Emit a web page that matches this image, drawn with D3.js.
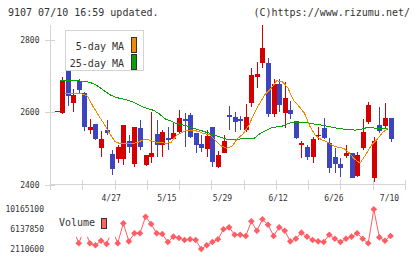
<!DOCTYPE html>
<html>
<head>
<meta charset="utf-8">
<script src="https://cdn.jsdelivr.net/npm/d3@7"></script>
<style>
body { margin: 0; background: #fff; }
svg { display: block; }
text { font-family: "DejaVu Sans Mono", monospace; fill: #333; }
</style>
</head>
<body>
<svg id="chart" width="420" height="259"></svg>
<script>
// trading days shown on the chart
const dates = [
  "4/13","4/14","4/15","4/16","4/17","4/20","4/21","4/22","4/23","4/24",
  "4/27","4/28","4/30","5/1","5/7","5/8","5/11","5/12","5/13","5/14",
  "5/15","5/18","5/19","5/20","5/21","5/22","5/25","5/26","5/27","5/28",
  "5/29","6/1","6/2","6/3","6/4","6/5","6/8","6/9","6/10","6/11",
  "6/12","6/15","6/16","6/17","6/18","6/19","6/22","6/23","6/24","6/25",
  "6/26","6/29","6/30","7/1","7/2","7/3","7/6","7/7","7/8","7/9",
  "7/10"
];

const open = [
  2602,2598,2716,2624,2686,2653,2551,2566,2500,2550,
  2484,2471,2471,2521,2457,2555,2454,2476,2539,2509,
  2527,2526,2545,2580,2591,2543,2512,2499,2558,2449,
  2488,2591,2587,2582,2550,2626,2697,2736,2736,2594,
  2677,2598,2606,2575,2510,2503,2477,2534,2555,2515,
  2477,2457,2479,2488,2424,2502,2573,2419,2564,2561,
  2583
];
const high = [
  2604,2696,2719,2663,2690,2656,2581,2568,2548,2578,
  2495,2509,2564,2537,2559,2578,2481,2601,2578,2550,
  2559,2573,2605,2596,2597,2543,2537,2550,2559,2493,
  2537,2617,2600,2589,2622,2721,2739,2840,2748,2690,
  2690,2684,2630,2575,2521,2509,2530,2559,2583,2527,
  2500,2472,2509,2488,2490,2580,2628,2532,2613,2626,
  2583
];
const low = [
  2601,2594,2617,2601,2650,2548,2539,2522,2477,2537,
  2427,2460,2453,2486,2449,2495,2452,2458,2477,2477,
  2495,2523,2541,2504,2528,2486,2490,2477,2449,2446,
  2486,2550,2546,2550,2546,2613,2665,2721,2585,2587,
  2601,2555,2580,2526,2472,2468,2460,2523,2526,2433,
  2432,2422,2472,2419,2422,2495,2567,2406,2541,2555,
  2518
];
const close = [
  2603,2688,2644,2648,2660,2558,2559,2525,2526,2542,
  2444,2504,2564,2503,2558,2503,2481,2486,2509,2546,
  2523,2543,2583,2574,2530,2510,2502,2534,2462,2481,
  2521,2585,2573,2576,2585,2702,2705,2776,2594,2677,
  2619,2639,2594,2529,2514,2477,2526,2537,2527,2446,
  2457,2445,2488,2419,2481,2546,2619,2521,2548,2583,
  2526
];

const ma5 = [
  null,2650,2650,2650,2650,2644,2616,2591,2567,2541,
  2518,2512,2514,2513,2516,2523,2523,2518,2516,2514,
  2515,2535,2544,2550,2550,2546,2540,2537,2522,2507,
  2500,2506,2527,2540,2563,2597,2625,2650,2665,2686,
  2684,2667,2633,2616,2597,2560,2535,2524,2518,2508,
  2503,2500,2488,2470,2459,2482,2508,2523,2543,2555,
  null
];
const ma25 = [
  2687,2687,2687,2687,2685,2683,2679,2670,2659,2648,
  2641,2637,2634,2629,2621,2614,2609,2604,2594,2581,
  2575,2568,2565,2561,2556,2551,2546,2541,2535,2530,
  2525,2525,2525,2526,2527,2528,2540,2548,2556,2559,
  2561,2568,2572,2572,2572,2569,2566,2564,2561,2558,
  2555,2553,2552,2550,2551,2556,2557,2555,2554,2553,
  null
];

// null = no volume point drawn for that day
const volume = [
  null,null,null,null,3267000,null,3270000,2860000,3790000,3120000,
  null,3270000,7320000,3670000,5300000,5300000,8660000,7180000,5300000,5150000,
  3530000,4610000,4340000,3940000,4080000,3940000,2110600,2860000,3530000,4080000,
  6110000,6510000,5010000,5010000,4750000,7730000,5820000,8140000,7040000,4750000,
  6510000,5820000,3670000,4200000,5420000,4610000,3940000,3670000,3530000,5010000,
  4200000,3530000,4200000,4610000,5300000,4200000,3270000,10165100,4480000,3790000,
  4750000
];

const priceTicks = [2400, 2600, 2800];
const dateLabels = ["4/27", "5/15", "5/29", "6/12", "6/26", "7/10"];
const volumeTicks = [10165100, 6137850, 2110600];

const upColor = "#d40000";
const downColor = "#3c44be";
const axisColor = "#d4d4d4";
const volColor = "#ff5c64";
const maOffset = 3; // MA lines sit a few px right of the candle centres

const svg = d3.select("#chart");

const x = d3.scalePoint().domain(dates).range([56.5, 390.5]);
const y = d3.scaleLinear().domain([2400, 2800]).range([184.5, 39.5]);
const yv = d3.scaleLinear().domain([2110600, 10165100]).range([249, 209.3]);
const gridX = d3.scaleLinear().domain([0, 11]).range([50, 405]);

// header
svg.append("text").attr("x", 8).attr("y", 16).attr("font-size", 10)
  .text("9107 07/10 16:59 updated.");
svg.append("text").attr("x", 410).attr("y", 16).attr("font-size", 10)
  .attr("text-anchor", "end").text("(C)https://www.rizumu.net/");

// axes
const axes = svg.append("g").attr("stroke", axisColor).attr("shape-rendering", "crispEdges");
axes.append("line").attr("x1", 50.5).attr("x2", 50.5).attr("y1", 25).attr("y2", 190);
axes.append("line").attr("x1", 50).attr("x2", 405.5).attr("y1", 184.5).attr("y2", 184.5);
axes.selectAll(".yt").data(priceTicks).enter().append("line")
  .attr("x1", 45).attr("x2", 55)
  .attr("y1", d => Math.round(y(d)) + 0.5).attr("y2", d => Math.round(y(d)) + 0.5);
axes.selectAll(".xt").data(d3.range(12)).enter().append("line")
  .attr("x1", d => Math.round(gridX(d)) + 0.5).attr("x2", d => Math.round(gridX(d)) + 0.5)
  .attr("y1", 180).attr("y2", 189.5);

svg.selectAll(".ylab").data(priceTicks).enter().append("text")
  .attr("x", 39.5).attr("y", d => y(d) + 3).attr("font-size", 8)
  .attr("text-anchor", "end").text(d => d);

svg.selectAll(".xlab").data(dateLabels).enter().append("text")
  .attr("x", d => x(d) - 1).attr("y", 200.5).attr("font-size", 8)
  .attr("text-anchor", "middle").text(d => d);

// candles
const candles = svg.append("g").attr("shape-rendering", "crispEdges");
dates.forEach((d, i) => {
  const col = close[i] >= open[i] ? upColor : downColor;
  const cx = Math.round(x(d));
  candles.append("line")
    .attr("x1", cx + 0.5).attr("x2", cx + 0.5)
    .attr("y1", y(high[i])).attr("y2", y(low[i]))
    .attr("stroke", col);
  const top = y(Math.max(open[i], close[i]));
  const bot = y(Math.min(open[i], close[i]));
  candles.append("rect")
    .attr("x", cx - 2).attr("width", 5)
    .attr("y", top).attr("height", Math.max(1, bot - top))
    .attr("fill", col);
});

// moving averages
const maLine = vals => d3.line()
  .defined(d => d != null)
  .x((d, i) => x(dates[i]) + maOffset)
  .y(d => y(d))(vals);

svg.append("path").attr("d", maLine(ma25)).attr("fill", "none")
  .attr("stroke", "#0aa00a").attr("stroke-width", 1).attr("shape-rendering", "crispEdges");
svg.append("path").attr("d", maLine(ma5)).attr("fill", "none")
  .attr("stroke", "#f08c00").attr("stroke-width", 1).attr("shape-rendering", "crispEdges");

// legend
const lg = svg.append("g").attr("shape-rendering", "crispEdges");
lg.append("rect").attr("x", 65.5).attr("y", 30.5).attr("width", 78).attr("height", 40)
  .attr("fill", "#fff").attr("stroke", "#d4d4d4");
lg.append("text").attr("x", 124).attr("y", 49.5).attr("font-size", 10)
  .attr("text-anchor", "end").text("5-day MA");
lg.append("text").attr("x", 124).attr("y", 67).attr("font-size", 10)
  .attr("text-anchor", "end").text("25-day MA");
lg.append("rect").attr("x", 131.5).attr("y", 37.5).attr("width", 5).attr("height", 15)
  .attr("fill", "#f08c00").attr("stroke", "#333");
lg.append("rect").attr("x", 131.5).attr("y", 54.5).attr("width", 5).attr("height", 15)
  .attr("fill", "#0aa00a").attr("stroke", "#333");

// volume panel
svg.selectAll(".vlab").data(volumeTicks).enter().append("text")
  .attr("x", 44).attr("y", d => yv(d) + 3).attr("font-size", 8)
  .attr("text-anchor", "end").text(d => d);

svg.append("text").attr("x", 59).attr("y", 226).attr("font-size", 10).text("Volume");
svg.append("rect").attr("x", 101.5).attr("y", 218.5).attr("width", 5).attr("height", 10)
  .attr("fill", "#ff6464").attr("stroke", "#333").attr("shape-rendering", "crispEdges");

svg.append("path")
  .attr("d", d3.line().defined(d => d != null)
    .x((d, i) => x(dates[i])).y(d => yv(d))(volume))
  .attr("fill", "none").attr("stroke", volColor).attr("stroke-width", 1);

// short stubs where the line heads toward a day with no point
const stubs = [];
volume.forEach((v, i) => {
  if (v == null) return;
  if (i > 0 && volume[i - 1] == null) stubs.push({ i, dir: -1 });
  if (i < volume.length - 1 && volume[i + 1] == null) stubs.push({ i, dir: 1 });
});
svg.selectAll(".stub").data(stubs).enter().append("line")
  .attr("x1", s => x(dates[s.i])).attr("y1", s => yv(volume[s.i]))
  .attr("x2", s => x(dates[s.i]) + s.dir * 2.5).attr("y2", s => yv(volume[s.i]) - 6.5)
  .attr("stroke", volColor);

svg.selectAll(".vpt").data(volume.map((v, i) => ({ v, d: dates[i] })).filter(p => p.v != null))
  .enter().append("path")
  .attr("d", d3.symbol(d3.symbolSquare, 22)())
  .attr("transform", p => `translate(${x(p.d)},${yv(p.v)}) rotate(45)`)
  .attr("fill", volColor);
</script>
</body>
</html>
